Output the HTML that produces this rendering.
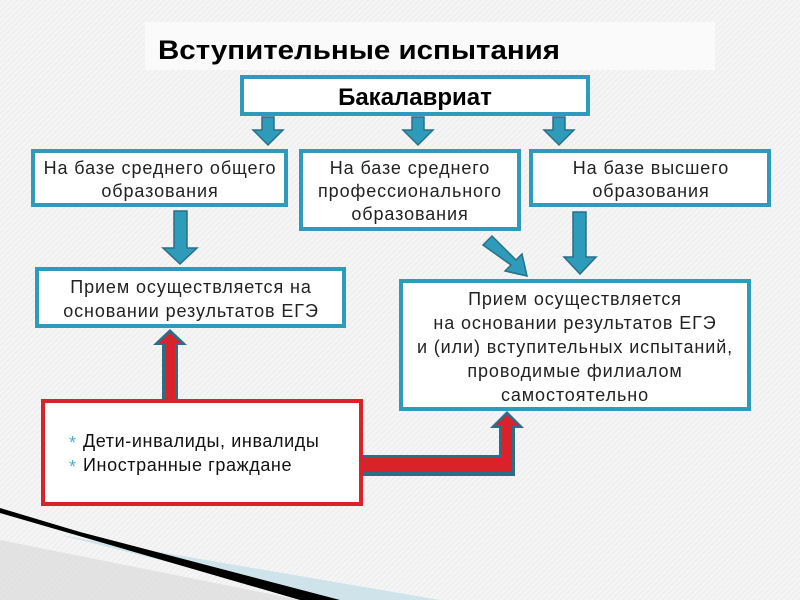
<!DOCTYPE html>
<html><head><meta charset="utf-8"><style>
html,body{margin:0;padding:0;background:#f3f3f3;}
svg{display:block;font-family:"Liberation Sans",sans-serif;}
</style></head><body>
<svg width="800" height="600" viewBox="0 0 800 600" xmlns="http://www.w3.org/2000/svg">
<defs>
<pattern id="h" width="4" height="4" patternUnits="userSpaceOnUse" patternTransform="rotate(45)">
<rect width="4" height="4" fill="#f5f5f5"/><rect width="1" height="4" fill="#ebebeb"/>
</pattern>
</defs>
<rect width="800" height="600" fill="url(#h)"/>
<!-- bottom-left decor -->
<polygon points="0,540 0,600 300,600" fill="#dcdcdc" opacity="0.7"/>
<polygon points="60,535 440,600 320,600" fill="#cfe3ea"/>
<polygon points="0,508 80,532 340,600 300,600 0,513" fill="#000"/>
<!-- title -->
<rect x="145" y="22" width="570" height="48" fill="#fafafa"/>
<text x="158" y="59" font-size="27" font-weight="bold" fill="#000" textLength="402" lengthAdjust="spacingAndGlyphs">Вступительные испытания</text>
<!-- Bakalavriat -->
<rect x="242" y="77" width="346" height="37" fill="#fff" stroke="#2f9bba" stroke-width="4"/>
<text x="415" y="105" font-size="24" font-weight="bold" text-anchor="middle">Бакалавриат</text>
<g fill="#2f9bba" stroke="#2a6f86" stroke-width="1.5">
<polygon points="262,117 274,117 274,130 283,130 268,145 253,130 262,130"/>
<polygon points="412,117 424,117 424,130 433,130 418,145 403,130 412,130"/>
<polygon points="553,117 565,117 565,130 574,130 559,145 544,130 553,130"/>
<polygon points="174,211 187,211 187,248 197,248 180,264 163,248 174,248"/>
<polygon points="573,212 586,212 586,257 596,257 580,274 564,257 573,257"/>
<polygon points="483,245 492,236 516,260 522,254 527,276 505,271 511,265"/>
</g>
<g fill="#fff" stroke="#2f9bba" stroke-width="4">
<rect x="33" y="151" width="253" height="54"/>
<rect x="301" y="151" width="218" height="78"/>
<rect x="531" y="151" width="238" height="54"/>
<rect x="37" y="269" width="307" height="57"/>
<rect x="401" y="281" width="348" height="128"/>
</g>
<g font-size="18" fill="#222" text-anchor="middle" letter-spacing="0.9">
<text x="160" y="174">На базе среднего общего</text>
<text x="160" y="197">образования</text>
<text x="410" y="174">На базе среднего</text>
<text x="410" y="197">профессионального</text>
<text x="410" y="220">образования</text>
<text x="651" y="174">На базе высшего</text>
<text x="651" y="197">образования</text>
<text x="191" y="293">Прием осуществляется на</text>
<text x="191" y="317">основании результатов ЕГЭ</text>
<text x="575" y="305">Прием осуществляется</text>
<text x="575" y="329">на основании результатов ЕГЭ</text>
<text x="575" y="353">и (или) вступительных испытаний,</text>
<text x="575" y="377">проводимые филиалом</text>
<text x="575" y="401">самостоятельно</text>
</g>
<polygon points="162,399 162,345 153,345 170,329 187,345 178,345 178,399" fill="#2a6f86"/>
<polygon points="165,399 165,343 159,343 170,333 181,343 175,343 175,399" fill="#d9222a"/>
<polygon points="360,455 499,455 499,428 490,428 507,411 524,428 515,428 515,476 360,476" fill="#2a6f86"/>
<polygon points="360,458 502,458 502,425 496,425 507,415 518,425 512,425 512,472 360,472" fill="#d9222a"/>
<rect x="43" y="401" width="318" height="103" fill="#fff" stroke="#d9222a" stroke-width="4"/>
<text x="69" y="449" font-size="18" fill="#3fb4d0">*</text>
<text x="83" y="447" font-size="18" fill="#111" letter-spacing="0.6">Дети-инвалиды, инвалиды</text>
<text x="69" y="473" font-size="18" fill="#3fb4d0">*</text>
<text x="83" y="471" font-size="18" fill="#111" letter-spacing="0.6">Иностранные граждане</text>
</svg>
</body></html>
